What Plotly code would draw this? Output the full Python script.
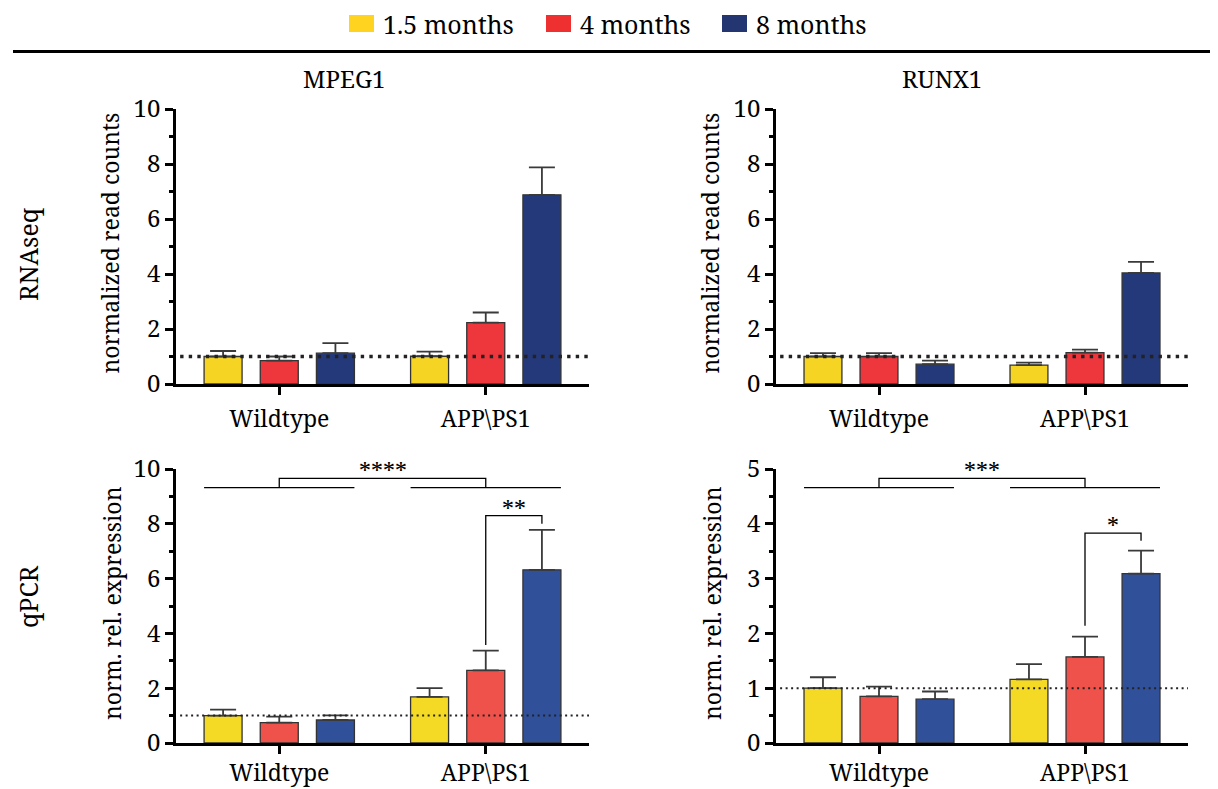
import plotly.graph_objects as go

# ---------------- data ----------------
groups = ["Wildtype", "APP\\PS1"]
ages = ["1.5 months", "4 months", "8 months"]
genes = ["MPEG1", "RUNX1"]
methods = ["RNAseq", "qPCR"]

# rows = ages (1.5, 4, 8 months); columns = groups (Wildtype, APP\PS1)
mpeg1_rna_mean = [[1.00, 1.01], [0.85, 2.23], [1.12, 6.88]]
mpeg1_rna_err = [[0.20, 0.17], [0.15, 0.37], [0.37, 1.00]]
runx1_rna_mean = [[1.00, 0.69], [1.00, 1.14], [0.72, 4.04]]
runx1_rna_err = [[0.12, 0.09], [0.12, 0.11], [0.13, 0.40]]
mpeg1_qpcr_mean = [[1.00, 1.68], [0.74, 2.65], [0.84, 6.32]]
mpeg1_qpcr_err = [[0.22, 0.32], [0.22, 0.72], [0.17, 1.46]]
runx1_qpcr_mean = [[1.00, 1.16], [0.85, 1.57], [0.80, 3.09]]
runx1_qpcr_err = [[0.20, 0.28], [0.18, 0.37], [0.14, 0.42]]

# significance: group comparison (label, base level, top level)
mpeg1_group_sig = ("****", 9.32, 9.66)
runx1_group_sig = ("***", 4.66, 4.83)
# within APP\PS1: 4 vs 8 months (label, left foot, right foot, top)
mpeg1_pair_sig = ("**", 3.58, 8.00, 8.30)
runx1_pair_sig = ("*", 2.14, 3.69, 3.83)

y_ranges = [[0, 10], [0, 10], [0, 10], [0, 5]]
y_dticks = [2, 2, 2, 1]
y_minor = [1, 1, 1, 0.5]
y_titles = ["normalized read counts", "normalized read counts",
            "norm. rel. expression", "norm. rel. expression"]

colors_top = ["#F5D423", "#EE363D", "#24397A"]
colors_bottom = ["#F4DA24", "#EF524A", "#31509A"]
legend_colors = ["#FFD320", "#EE3030", "#243672"]

# ---------------- layout geometry ----------------
W, H = 1218, 789
OFF = 8  # page body margin
FONT = "Noto Serif, DejaVu Serif, serif"


def px_x(v):
    return (v - OFF) / W


def px_y(v):
    return 1 - (v - OFF) / H


panels = [
    dict(means=mpeg1_rna_mean, errs=mpeg1_rna_err, colors=colors_top,
         xd=[176, 589], yd=[109, 384]),
    dict(means=runx1_rna_mean, errs=runx1_rna_err, colors=colors_top,
         xd=[776, 1188], yd=[109, 384]),
    dict(means=mpeg1_qpcr_mean, errs=mpeg1_qpcr_err, colors=colors_bottom,
         xd=[176, 589], yd=[469, 743]),
    dict(means=runx1_qpcr_mean, errs=runx1_qpcr_err, colors=colors_bottom,
         xd=[776, 1188], yd=[469, 743]),
]

offsets = [-0.272, 0.0, 0.272]
bar_w = 0.184

fig = go.Figure()
layout = dict(
    width=W, height=H, margin=dict(l=0, r=0, t=0, b=0, autoexpand=False),
    paper_bgcolor="white", plot_bgcolor="white",
    barmode="overlay", showlegend=False,
    font=dict(family=FONT, color="black", size=22),
)
shapes = []
annotations = []

for p, pan in enumerate(panels):
    sfx = "" if p == 0 else str(p + 1)
    xa, ya = "x" + sfx, "y" + sfx
    top_row = p < 2
    for i, age in enumerate(ages):
        xs = [g + 1 + offsets[i] for g in range(len(groups))]
        fig.add_trace(go.Bar(
            x=xs, y=pan["means"][i], width=bar_w, name=age,
            xaxis=xa, yaxis=ya,
            marker=dict(color=pan["colors"][i], line=dict(color="#333333", width=1.3)),
            error_y=dict(type="data", array=pan["errs"][i],
                         arrayminus=[0] * len(groups), symmetric=False,
                         color="#3a3a3a", thickness=1.8, width=13),
        ))
    layout["xaxis" + sfx] = dict(
        domain=[px_x(pan["xd"][0]), px_x(pan["xd"][1])],
        anchor=ya, range=[0.5, 2.5], automargin=False,
        tickvals=[1, 2], ticktext=groups,
        ticklabelstandoff=5 if top_row else 0,
        showline=True, linecolor="black", linewidth=2.5,
        ticks="outside", ticklen=8, tickwidth=2.5, tickcolor="black",
        showgrid=False, zeroline=False,
        tickfont=dict(family=FONT, size=23, color="black"),
    )
    layout["yaxis" + sfx] = dict(
        domain=[px_y(pan["yd"][1]), px_y(pan["yd"][0])],
        anchor=xa, range=y_ranges[p], dtick=y_dticks[p], automargin=False,
        showline=True, linecolor="black", linewidth=2.5,
        ticks="outside", ticklen=8, tickwidth=2.5, tickcolor="black",
        minor=dict(ticks="outside", ticklen=4, tickwidth=2.5,
                   tickcolor="black", dtick=y_minor[p]),
        showgrid=False, zeroline=False,
        tickfont=dict(family=FONT, size=24, color="black"),
    )
    # y axis title
    annotations.append(dict(
        text=y_titles[p], xref="paper", yref="paper",
        x=px_x(pan["xd"][0] - (66 if top_row else 64)),
        y=px_y((pan["yd"][0] + pan["yd"][1]) / 2 - 3),
        textangle=-90, showarrow=False, xanchor="center", yanchor="middle",
        font=dict(family=FONT, size=23, color="black"),
    ))
    # reference dotted line at 1
    shapes.append(dict(
        type="line", xref=xa, yref=ya, x0=0.52, x1=2.5, y0=1, y1=1,
        line=dict(color="#222222", width=3.4 if top_row else 2,
                  dash="3.4px,5.2px" if top_row else "2px,3.5px"),
        layer="above",
    ))

# significance brackets (bottom row)
for p, gsig, psig in [(2, mpeg1_group_sig, mpeg1_pair_sig),
                      (3, runx1_group_sig, runx1_pair_sig)]:
    sfx = str(p + 1)
    xa, ya = "x" + sfx, "y" + sfx
    lab, base, top = gsig
    ln = dict(color="black", width=1.3)
    for g in range(2):
        shapes.append(dict(type="line", xref=xa, yref=ya,
                           x0=g + 1 + offsets[0] - bar_w / 2, x1=g + 1 + offsets[2] + bar_w / 2,
                           y0=base, y1=base, line=ln))
    shapes.append(dict(type="path", xref=xa, yref=ya,
                       path=f"M1,{base} L1,{top} L2,{top} L2,{base}", line=ln))
    annotations.append(dict(text=lab, xref=xa, yref=ya, x=1.5, y=top,
                            showarrow=False, yanchor="bottom", yshift=-11,
                            font=dict(family=FONT, size=24, color="black")))
    lab, lf, rf, tp = psig
    xl, xr = 2 + offsets[1], 2 + offsets[2]
    shapes.append(dict(type="path", xref=xa, yref=ya,
                       path=f"M{xl},{lf} L{xl},{tp} L{xr},{tp} L{xr},{rf}", line=ln))
    annotations.append(dict(text=lab, xref=xa, yref=ya, x=(xl + xr) / 2, y=tp,
                            showarrow=False, yanchor="bottom", yshift=-11,
                            font=dict(family=FONT, size=24, color="black")))

# column titles
for gname, cx in zip(genes, [344, 942]):
    annotations.append(dict(text=gname, xref="paper", yref="paper",
                            x=px_x(cx), y=px_y(79), showarrow=False,
                            xanchor="center", yanchor="middle",
                            font=dict(family=FONT, size=24, color="black")))
# row titles
for mname, cy in zip(methods, [255, 597]):
    annotations.append(dict(text=mname, xref="paper", yref="paper",
                            x=px_x(28), y=px_y(cy), showarrow=False, textangle=-90,
                            xanchor="center", yanchor="middle",
                            font=dict(family=FONT, size=25, color="black")))

# legend (top)
leg_x = [349, 546, 722]
for age, col, lx in zip(ages, legend_colors, leg_x):
    shapes.append(dict(type="rect", xref="paper", yref="paper",
                       x0=px_x(lx), x1=px_x(lx + 25), y0=px_y(32), y1=px_y(15),
                       fillcolor=col, line=dict(width=0)))
    annotations.append(dict(text=age, xref="paper", yref="paper",
                            x=px_x(lx + 32), y=px_y(24), showarrow=False,
                            xanchor="left", yanchor="middle",
                            font=dict(family=FONT, size=25, color="black")))

# separator line under legend
shapes.append(dict(type="line", xref="paper", yref="paper",
                   x0=px_x(13), x1=1, y0=px_y(51.5), y1=px_y(51.5),
                   line=dict(color="black", width=3)))

layout["shapes"] = shapes
layout["annotations"] = annotations
fig.update_layout(**layout)
fig.write_html("out.html")
